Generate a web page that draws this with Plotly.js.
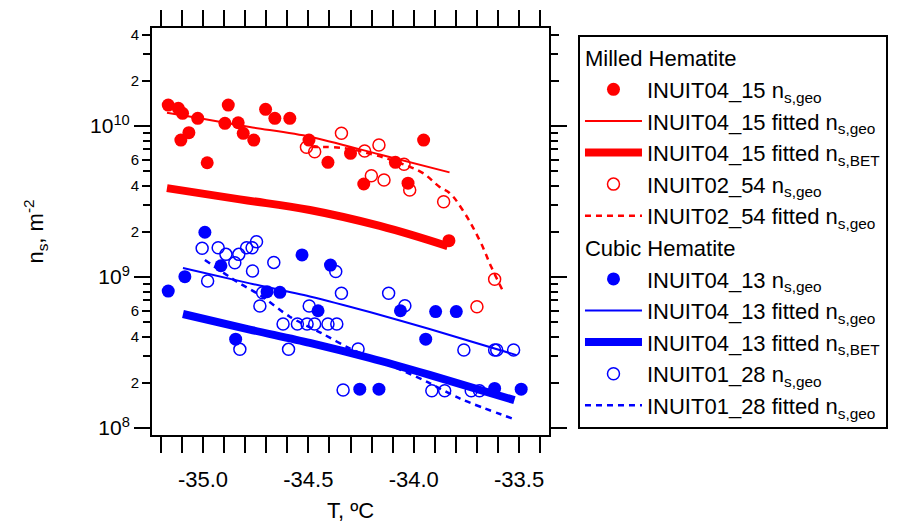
<!DOCTYPE html>
<html>
<head>
<meta charset="utf-8">
<script src="https://cdn.plot.ly/plotly-3.0.1.min.js"></script>
<style>html,body{margin:0;padding:0;background:#fff;}#chart{width:901px;height:523px;}</style>
</head>
<body>
<div id="chart"></div>
<script>
// ---------- Data ----------
// Milled hematite, INUIT04_15 n_s,geo (filled red)
const m0415_T = [-35.165,-35.117,-35.097,-35.105,-35.067,-35.025,-34.980,-34.896,-34.880,-34.833,-34.809,-34.759,-34.703,-34.659,-34.588,-34.497,-34.407,-34.300,-34.237,-34.087,-34.027,-33.953,-33.833];
const m0415_ns = [1.377e10,1.31e10,1.213e10,8.07e9,9.04e9,1.125e10,5.71e9,1.042e10,1.377e10,1.051e10,8.95e9,8.07e9,1.29e10,1.125e10,1.125e10,8.07e9,5.75e9,6.59e9,4.13e9,5.75e9,4.18e9,8.07e9,1.74e9];
// INUIT04_15 fitted n_s,geo
const m0415_fitgeo_T = [-35.171,-35.015,-34.778,-34.493,-34.161,-33.830];
const m0415_fitgeo_ns = [1.225e10,1.125e10,9.85e9,8.5e9,6.47e9,4.93e9];
// INUIT04_15 fitted n_s,BET
const m0415_fitbet_T = [-35.171,-34.825,-34.493,-34.161,-33.839];
const m0415_fitbet_ns = [3.88e9,3.27e9,2.78e9,2.18e9,1.60e9];
// INUIT02_54 n_s,geo (open red)
const m0254_T = [-34.509,-34.470,-34.343,-34.233,-34.165,-34.201,-34.141,-34.046,-34.019,-33.858,-33.700,-33.616];
const m0254_ns = [7.23e9,6.76e9,8.95e9,6.83e9,7.48e9,4.69e9,4.39e9,5.58e9,3.77e9,3.15e9,6.36e8,9.66e8];
// INUIT02_54 fitted n_s,geo
const m0254_fit_T = [-34.484,-34.337,-34.185,-34.067,-33.958,-33.877,-33.830,-33.768,-33.688,-33.631,-33.579];
const m0254_fit_ns = [7.26e9,7.15e9,6.43e9,5.69e9,4.89e9,3.95e9,3.6e9,2.78e9,1.76e9,1.16e9,8.2e8];

// Cubic hematite, INUIT04_13 n_s,geo (filled blue)
const c0413_T = [-35.165,-35.086,-34.991,-34.915,-34.845,-34.696,-34.635,-34.530,-34.395,-34.454,-34.256,-34.165,-34.063,-33.943,-33.896,-33.798,-33.616,-33.490];
const c0413_ns = [8.07e8,1.005e9,1.98e9,1.188e9,3.88e8,8.0e8,7.92e8,1.40e9,1.2e9,5.98e8,1.81e8,1.81e8,5.98e8,3.88e8,5.91e8,5.91e8,1.83e8,1.81e8];
// INUIT04_13 fitted n_s,geo
const c0413_fitgeo_T = [-35.095,-34.778,-34.493,-34.209,-33.925,-33.512];
const c0413_fitgeo_ns = [1.147e9,9.08e8,7.43e8,5.86e8,4.53e8,3.04e8];
// INUIT04_13 fitted n_s,BET
const c0413_fitbet_T = [-35.095,-34.778,-34.493,-34.209,-33.925,-33.522];
const c0413_fitbet_ns = [5.69e8,4.49e8,3.66e8,2.91e8,2.25e8,1.53e8];
// INUIT01_28 n_s,geo (open blue)
const c0128_T = [-35.004,-34.928,-34.891,-34.978,-34.849,-34.830,-34.793,-34.767,-34.746,-34.765,-34.664,-34.717,-34.730,-34.825,-34.620,-34.594,-34.552,-34.506,-34.496,-34.470,-34.407,-34.365,-34.370,-34.343,-34.335,-34.264,-34.119,-34.042,-33.914,-33.853,-33.762,-33.727,-33.688,-33.616,-33.606,-33.526];
const c0128_ns = [1.549e9,1.563e9,1.413e9,9.41e8,1.244e9,1.413e9,1.563e9,1.563e9,1.714e9,1.096e9,1.25e9,7.87e8,6.43e8,3.32e8,4.89e8,3.32e8,4.89e8,4.89e8,6.43e8,4.89e8,4.89e8,4.89e8,1.088e9,7.8e8,1.786e8,3.34e8,7.8e8,6.46e8,1.766e8,1.766e8,3.29e8,1.766e8,1.766e8,3.29e8,3.29e8,3.29e8];
// INUIT01_28 fitted n_s,geo
const c0128_fit_T = [-34.991,-34.839,-34.730,-34.588,-34.436,-34.304,-34.081,-33.939,-33.782,-33.512];
const c0128_fit_ns = [1.297e9,9.31e8,7.6e8,5.46e8,4.24e8,3.37e8,2.49e8,2.03e8,1.57e8,1.13e8];

// Tick labels
const xTickVals = [-35.0,-34.5,-34.0,-33.5];
const xTickText = ['-35.0','-34.5','-34.0','-33.5'];
const yDecadeVals = [1e8,1e9,1e10];
const yDecadeText = ['10<sup>8</sup>','10<sup>9</sup>','10<sup>10</sup>'];
const yMidVals = [2e8,4e8,6e8,2e9,4e9,6e9,2e10,4e10];
const yMidText = ['2','4','6','2','4','6','2','4'];
const yMinorVals = [3e8,5e8,7e8,8e8,9e8,3e9,5e9,7e9,8e9,9e9,3e10];

// ---------- Styling ----------
const RED = '#ff0000', BLUE = '#0000ff';
const FONT = 'Arial, "Liberation Sans", sans-serif';
const LF = 22;

const traces = [
  {x:m0415_T, y:m0415_ns, type:'scatter', mode:'markers', name:'INUIT04_15 n<sub>s,geo</sub>',
   marker:{color:RED, size:13, symbol:'circle'}, legendgroup:'milled',
   legendgrouptitle:{text:'Milled Hematite', font:{size:LF, family:FONT, color:'black'}}},
  {x:m0415_fitgeo_T, y:m0415_fitgeo_ns, type:'scatter', mode:'lines', name:'INUIT04_15 fitted n<sub>s,geo</sub>',
   line:{color:RED, width:2, shape:'spline', smoothing:0.8}, legendgroup:'milled'},
  {x:m0415_fitbet_T, y:m0415_fitbet_ns, type:'scatter', mode:'lines', name:'INUIT04_15 fitted n<sub>s,BET</sub>',
   line:{color:RED, width:8, shape:'spline', smoothing:1.2}, legendgroup:'milled'},
  {x:m0254_T, y:m0254_ns, type:'scatter', mode:'markers', name:'INUIT02_54 n<sub>s,geo</sub>',
   marker:{color:RED, size:12, symbol:'circle-open', line:{width:1.5}}, legendgroup:'milled'},
  {x:m0254_fit_T, y:m0254_fit_ns, type:'scatter', mode:'lines', name:'INUIT02_54 fitted n<sub>s,geo</sub>',
   line:{color:RED, width:2.5, dash:'6px,5px', shape:'spline', smoothing:1.2}, legendgroup:'milled'},

  {x:c0413_T, y:c0413_ns, type:'scatter', mode:'markers', name:'INUIT04_13 n<sub>s,geo</sub>',
   marker:{color:BLUE, size:13, symbol:'circle'}, legendgroup:'cubic',
   legendgrouptitle:{text:'Cubic Hematite', font:{size:LF, family:FONT, color:'black'}}},
  {x:c0413_fitgeo_T, y:c0413_fitgeo_ns, type:'scatter', mode:'lines', name:'INUIT04_13 fitted n<sub>s,geo</sub>',
   line:{color:BLUE, width:2, shape:'spline', smoothing:0.8}, legendgroup:'cubic'},
  {x:c0413_fitbet_T, y:c0413_fitbet_ns, type:'scatter', mode:'lines', name:'INUIT04_13 fitted n<sub>s,BET</sub>',
   line:{color:BLUE, width:8, shape:'spline', smoothing:0.8}, legendgroup:'cubic'},
  {x:c0128_T, y:c0128_ns, type:'scatter', mode:'markers', name:'INUIT01_28 n<sub>s,geo</sub>',
   marker:{color:BLUE, size:12, symbol:'circle-open', line:{width:1.5}}, legendgroup:'cubic'},
  {x:c0128_fit_T, y:c0128_fit_ns, type:'scatter', mode:'lines', name:'INUIT01_28 fitted n<sub>s,geo</sub>',
   line:{color:BLUE, width:2.5, dash:'6px,5px', shape:'spline', smoothing:0.8}, legendgroup:'cubic'},

  // empty helper traces so the overlay tick axes exist
  {x:[], y:[], yaxis:'y2', type:'scatter', mode:'markers', showlegend:false, hoverinfo:'skip'},
  {x:[], y:[], yaxis:'y3', type:'scatter', mode:'markers', showlegend:false, hoverinfo:'skip'}
];

const yRange = [7.954, 10.649];
const axCommon = {showline:true, linewidth:2, linecolor:'black', mirror:'allticks', ticks:'outside',
  tickwidth:2, tickcolor:'black', showgrid:false, zeroline:false};

const layout = {
  width:901, height:523,
  margin:{l:152, r:352, t:28, b:88},
  paper_bgcolor:'white', plot_bgcolor:'white',
  font:{family:FONT, color:'black'},
  hovermode:false,
  showlegend:true,
  legend:{x:1.073, y:0.983, xanchor:'left', yanchor:'top', bordercolor:'black', borderwidth:2,
    bgcolor:'white', font:{size:LF, family:FONT, color:'black'}, tracegroupgap:0, traceorder:'grouped',
    itemwidth:57},
  xaxis:Object.assign({}, axCommon, {range:[-35.242,-33.358], tickmode:'array', tickvals:xTickVals, ticktext:xTickText,
    ticklen:16, tickfont:{size:22}, ticklabelstandoff:8, title:{text:'T, ºC', font:{size:22}, standoff:14},
    minor:{dtick:0.1, tick0:0, ticks:'outside', ticklen:9, tickwidth:2, tickcolor:'black', showgrid:false}}),
  yaxis:Object.assign({}, axCommon, {type:'log', range:yRange, tickmode:'array', tickvals:yDecadeVals, ticktext:yDecadeText,
    ticklen:16, tickfont:{size:21}, title:{text:'n<sub>s</sub>, m<sup>-2</sup>', font:{size:22}, standoff:40}}),
  yaxis2:Object.assign({}, axCommon, {overlaying:'y', side:'left', type:'log', range:yRange, tickmode:'array',
    tickvals:yMidVals, ticktext:yMidText, ticklen:8, tickfont:{size:15}}),
  yaxis3:Object.assign({}, axCommon, {overlaying:'y', side:'left', type:'log', range:yRange, tickmode:'array',
    tickvals:yMinorVals, showticklabels:false, ticklen:7})
};

Plotly.newPlot('chart', traces, layout, {displayModeBar:false, staticPlot:true});
</script>
</body>
</html>
